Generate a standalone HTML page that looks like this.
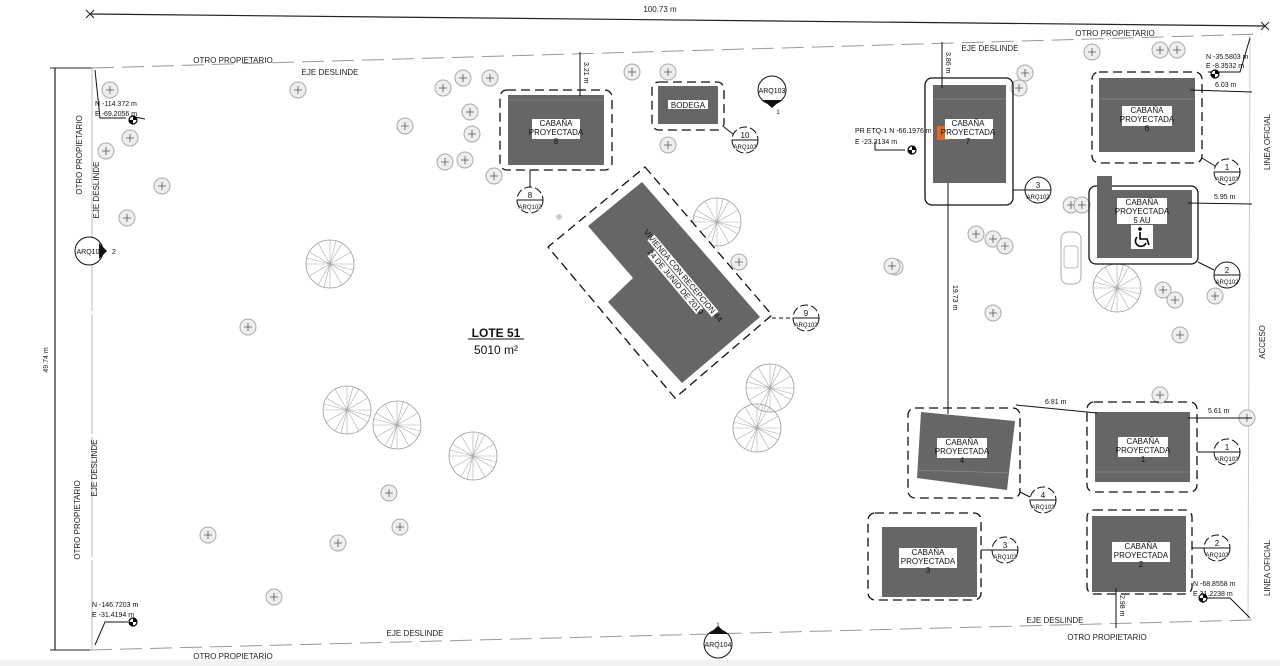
<!DOCTYPE html>
<html><head><meta charset="utf-8"><style>
html,body{margin:0;padding:0;background:#fff;}
svg{display:block;font-family:"Liberation Sans",sans-serif;}
.l{font-size:8px;fill:#222;}
.s{font-size:7px;fill:#222;}
.cab{font-size:8px;fill:#111;}
</style></head><body>
<svg width="1280" height="666" viewBox="0 0 1280 666" xmlns="http://www.w3.org/2000/svg">
<defs>
<g id="t"><circle r="8" fill="#eee" stroke="#aaa" stroke-width="1"/><path d="M-4 0H4M0 -4V4" stroke="#555" stroke-width="0.8"/></g>
<g id="T"><circle r="24" fill="none" stroke="#999" stroke-width="0.8"/>
<path d="M0 0L0 -24M0 0L12 -21M0 0L21 -12M0 0L24 0M0 0L21 12M0 0L12 21M0 0L0 24M0 0L-12 21M0 0L-21 12M0 0L-24 0M0 0L-21 -12M0 0L-12 -21M0 0L6 -23M0 0L-6 23M0 0L23 6M0 0L-23 -6" stroke="#aaa" stroke-width="0.6"/></g>
<g id="mk"><circle r="4" fill="#fff" stroke="#000" stroke-width="1.2"/><path d="M0 -4A4 4 0 0 1 4 0H0ZM0 4A4 4 0 0 1 -4 0H0Z" fill="#000"/></g>
</defs>
<rect width="1280" height="666" fill="#fff"/>
<rect y="660" width="1280" height="6" fill="#f2f2f2"/>

<line x1="90" y1="14" x2="1265" y2="26" stroke="#222" stroke-width="1.2"/>
<path d="M86 10l8 8M86 18l8 -8M1261 22l8 8M1261 30l8-8" stroke="#222"/>
<text x="660" y="12" class="l" text-anchor="middle">100.73 m</text>
<line x1="55" y1="68" x2="55" y2="650" stroke="#222" stroke-width="1.2"/>
<line x1="50" y1="68" x2="92" y2="68" stroke="#222" stroke-width="1"/>
<line x1="50" y1="650" x2="92" y2="650" stroke="#222" stroke-width="1"/>
<text transform="translate(48,360) rotate(-90)" class="s" text-anchor="middle">49.74 m</text>

<line x1="92" y1="68" x2="1262" y2="34" stroke="#999" stroke-width="1" stroke-dasharray="22 8"/>
<line x1="90" y1="650" x2="1252" y2="620" stroke="#999" stroke-width="1" stroke-dasharray="22 8"/>
<line x1="92" y1="68" x2="92" y2="650" stroke="#bbb" stroke-width="1" stroke-dasharray="120 3"/>
<line x1="1250" y1="36" x2="1248" y2="620" stroke="#ccc" stroke-width="1"/>
<text x="233" y="63" class="l" text-anchor="middle">OTRO PROPIETARIO</text>
<text x="330" y="75" class="l" text-anchor="middle">EJE DESLINDE</text>
<text x="1115" y="36" class="l" text-anchor="middle">OTRO PROPIETARIO</text>
<text x="990" y="51" class="l" text-anchor="middle">EJE DESLINDE</text>
<text x="415" y="636" class="l" text-anchor="middle">EJE DESLINDE</text>
<text x="233" y="659" class="l" text-anchor="middle">OTRO PROPIETARIO</text>
<text x="1055" y="623" class="l" text-anchor="middle">EJE DESLINDE</text>
<text x="1107" y="640" class="l" text-anchor="middle">OTRO PROPIETARIO</text>
<text transform="translate(82,155) rotate(-90)" class="l" text-anchor="middle">OTRO PROPIETARIO</text>
<text transform="translate(99,190) rotate(-90)" class="l" text-anchor="middle">EJE DESLINDE</text>
<text transform="translate(80,520) rotate(-90)" class="l" text-anchor="middle">OTRO PROPIETARIO</text>
<text transform="translate(97,468) rotate(-90)" class="l" text-anchor="middle">EJE DESLINDE</text>
<text transform="translate(1270,142) rotate(-90)" class="l" text-anchor="middle">LINEA OFICIAL</text>
<text transform="translate(1265,342) rotate(-90)" class="l" text-anchor="middle">ACCESO</text>
<text transform="translate(1270,568) rotate(-90)" class="l" text-anchor="middle">LINEA OFICIAL</text>

<g>
<use href="#t" x="110" y="90"/><use href="#t" x="130" y="138"/><use href="#t" x="106" y="151"/><use href="#t" x="162" y="186"/><use href="#t" x="127" y="218"/>
<use href="#t" x="298" y="90"/><use href="#t" x="405" y="126"/><use href="#t" x="443" y="88"/><use href="#t" x="463" y="78"/><use href="#t" x="490" y="78"/>
<use href="#t" x="470" y="112"/><use href="#t" x="472" y="134"/><use href="#t" x="445" y="162"/><use href="#t" x="465" y="160"/><use href="#t" x="494" y="176"/>
<use href="#t" x="632" y="72"/><use href="#t" x="668" y="72"/><use href="#t" x="668" y="145"/>
<use href="#t" x="248" y="327"/><use href="#t" x="208" y="535"/><use href="#t" x="274" y="597"/><use href="#t" x="338" y="543"/><use href="#t" x="389" y="493"/><use href="#t" x="400" y="527"/>
<use href="#t" x="739" y="262"/><use href="#t" x="895" y="267"/><use href="#t" x="993" y="313"/>
<use href="#t" x="1019" y="88"/><use href="#t" x="1025" y="73"/><use href="#t" x="1092" y="52"/><use href="#t" x="1160" y="50"/><use href="#t" x="1177" y="50"/>
<use href="#t" x="1071" y="205"/><use href="#t" x="1082" y="205"/><use href="#t" x="976" y="234"/><use href="#t" x="993" y="239"/><use href="#t" x="1005" y="246"/><use href="#t" x="892" y="266"/>
<use href="#t" x="1163" y="290"/><use href="#t" x="1175" y="300"/><use href="#t" x="1215" y="296"/><use href="#t" x="1180" y="335"/><use href="#t" x="1247" y="418"/><use href="#t" x="1160" y="395"/>
</g>
<use href="#T" x="330" y="264"/><use href="#T" x="347" y="410"/><use href="#T" x="397" y="425"/><use href="#T" x="473" y="456"/>
<use href="#T" x="717" y="222"/><use href="#T" x="770" y="388"/><use href="#T" x="757" y="428"/><use href="#T" x="1117" y="288"/>
<circle cx="559" cy="217" r="3" fill="#ccc"/>

<path d="M645 167L772 315L675 398L548 247Z" fill="#fff" stroke="#111" stroke-width="1.3" stroke-dasharray="9 5" stroke-linejoin="round"/>
<path d="M642 182L760 317L682 383L608 302L633 278L588 226Z" fill="#666"/>
<g transform="translate(678,280) rotate(50)">
<rect x="-50" y="-11" width="100" height="9" fill="#fff"/><rect x="-38" y="-1" width="76" height="9" fill="#fff"/>
<text class="cab" text-anchor="middle"><tspan x="0" y="-4">VIVIENDA CON RECEPCION 44</tspan><tspan x="0" y="6">24 DE JUNIO DE 2019</tspan></text></g>
<line x1="772" y1="318" x2="792" y2="318" stroke="#111" stroke-dasharray="4 3"/>

<g fill="none" stroke="#111" stroke-width="1.3">
<rect x="500" y="90" width="112" height="80" rx="7" stroke-dasharray="9 5"/>
<rect x="652" y="82" width="72" height="48" rx="7" stroke-dasharray="9 5"/>
<rect x="925" y="78" width="88" height="127" rx="7"/>
<rect x="1092" y="72" width="110" height="91" rx="7" stroke-dasharray="9 5"/>
<rect x="1089" y="186" width="109" height="78" rx="7"/>
<rect x="908" y="408" width="112" height="90" rx="7" stroke-dasharray="9 5"/>
<rect x="1087" y="402" width="110" height="90" rx="7" stroke-dasharray="9 5"/>
<rect x="868" y="513" width="113" height="87" rx="7" stroke-dasharray="9 5"/>
<rect x="1087" y="510" width="105" height="84" rx="7" stroke-dasharray="9 5"/>
</g>
<g fill="#666">
<rect x="508" y="95" width="96" height="70"/>
<rect x="658" y="86" width="60" height="38"/>
<rect x="933" y="85" width="73" height="98"/>
<rect x="1099" y="78" width="96" height="74"/>
<rect x="1097" y="190" width="95" height="68"/><rect x="1097" y="176" width="15" height="16"/>
<path d="M921 412L1015 421L1007 490L917 478Z"/>
<rect x="1095" y="412" width="95" height="70"/>
<rect x="882" y="527" width="95" height="70"/>
<rect x="1092" y="516" width="94" height="76"/>
</g>
<g stroke="#999" stroke-width="0.6"><line x1="508" y1="100" x2="604" y2="100"/><line x1="933" y1="99" x2="1006" y2="99"/><line x1="1099" y1="99" x2="1195" y2="99"/><line x1="1095" y1="472" x2="1190" y2="472"/><line x1="918" y1="470" x2="1008" y2="473"/></g>
<rect x="937" y="126" width="12" height="14" fill="#e06a2a"/>

<g class="cab" text-anchor="middle">
<g fill="#fff"><rect x="532" y="119" width="48" height="20"/><rect x="668" y="100" width="40" height="9"/><rect x="945" y="119" width="48" height="20"/><rect x="1122" y="106" width="50" height="20"/><rect x="1117" y="198" width="50" height="26"/><rect x="937" y="438" width="50" height="20"/><rect x="1118" y="437" width="50" height="20"/><rect x="899" y="548" width="58" height="20"/><rect x="1112" y="542" width="58" height="20"/></g>
<text x="556" y="126">CABAÑA<tspan x="556" dy="9">PROYECTADA</tspan><tspan x="556" dy="9">8</tspan></text>
<text x="688" y="108">BODEGA</text>
<text x="968" y="126">CABAÑA<tspan x="968" dy="9">PROYECTADA</tspan><tspan x="968" dy="9">7</tspan></text>
<text x="1147" y="113">CABAÑA<tspan x="1147" dy="9">PROYECTADA</tspan><tspan x="1147" dy="9">6</tspan></text>
<text x="1142" y="205">CABAÑA<tspan x="1142" dy="9">PROYECTADA</tspan><tspan x="1142" dy="9">5 AU</tspan></text>
<text x="962" y="445">CABAÑA<tspan x="962" dy="9">PROYECTADA</tspan><tspan x="962" dy="9">4</tspan></text>
<text x="1143" y="444">CABAÑA<tspan x="1143" dy="9">PROYECTADA</tspan><tspan x="1143" dy="9">1</tspan></text>
<text x="928" y="555">CABAÑA<tspan x="928" dy="9">PROYECTADA</tspan><tspan x="928" dy="9">3</tspan></text>
<text x="1141" y="549">CABAÑA<tspan x="1141" dy="9">PROYECTADA</tspan><tspan x="1141" dy="9">2</tspan></text>
</g>
<rect x="1131" y="225" width="22" height="24" fill="#fff"/>
<g stroke="#000" stroke-width="1.6" fill="none">
<circle cx="1140" cy="229" r="1.8" fill="#000" stroke="none"/>
<path d="M1140 232V239H1147L1149 245"/>
<path d="M1137 237A5.5 5.5 0 1 0 1146 243"/>
</g>

<g font-size="8" text-anchor="middle" fill="#111">
<g transform="translate(530,200)"><circle r="13" fill="#fff" stroke="#111" stroke-dasharray="8 3"/><line x1="-13" x2="13" stroke="#111"/><text y="-2">8</text><text y="9" font-size="6">ARQ102</text><line y1="-13" y2="-30" stroke="#111"/></g>
<g transform="translate(745,140)"><circle r="13" fill="#fff" stroke="#111" stroke-dasharray="8 3"/><line x1="-13" x2="13" stroke="#111"/><text y="-2">10</text><text y="9" font-size="6">ARQ102</text></g>
<g transform="translate(806,318)"><circle r="13" fill="#fff" stroke="#111" stroke-dasharray="8 3"/><line x1="-13" x2="13" stroke="#111"/><text y="-2">9</text><text y="9" font-size="6">ARQ102</text></g>
<g transform="translate(1038,190)"><circle r="13" fill="#fff" stroke="#111"/><line x1="-13" x2="13" stroke="#111"/><text y="-2">3</text><text y="9" font-size="6">ARQ102</text></g>
<g transform="translate(1227,172)"><circle r="13" fill="#fff" stroke="#111" stroke-dasharray="8 3"/><line x1="-13" x2="13" stroke="#111"/><text y="-2">1</text><text y="9" font-size="6">ARQ102</text></g>
<g transform="translate(1227,275)"><circle r="13" fill="#fff" stroke="#111"/><line x1="-13" x2="13" stroke="#111"/><text y="-2">2</text><text y="9" font-size="6">ARQ102</text></g>
<g transform="translate(1227,452)"><circle r="13" fill="#fff" stroke="#111" stroke-dasharray="8 3"/><line x1="-13" x2="13" stroke="#111"/><text y="-2">1</text><text y="9" font-size="6">ARQ102</text></g>
<g transform="translate(1043,500)"><circle r="13" fill="#fff" stroke="#111" stroke-dasharray="8 3"/><line x1="-13" x2="13" stroke="#111"/><text y="-2">4</text><text y="9" font-size="6">ARQ102</text></g>
<g transform="translate(1005,550)"><circle r="13" fill="#fff" stroke="#111" stroke-dasharray="8 3"/><line x1="-13" x2="13" stroke="#111"/><text y="-2">3</text><text y="9" font-size="6">ARQ102</text></g>
<g transform="translate(1217,548)"><circle r="13" fill="#fff" stroke="#111" stroke-dasharray="8 3"/><line x1="-13" x2="13" stroke="#111"/><text y="-2">2</text><text y="9" font-size="6">ARQ102</text></g>
</g>
<g stroke="#111" fill="none"><line x1="724" y1="127" x2="733" y2="134"/><line x1="1013" y1="190" x2="1025" y2="190"/><line x1="1202" y1="158" x2="1215" y2="166"/><line x1="1198" y1="262" x2="1214" y2="270"/><line x1="1197" y1="452" x2="1214" y2="452"/><line x1="1020" y1="492" x2="1030" y2="497"/><line x1="981" y1="550" x2="992" y2="550"/><line x1="1192" y1="548" x2="1204" y2="548"/></g>
<g font-size="7" fill="#111" text-anchor="middle">
<circle cx="772" cy="90" r="14" fill="#fff" stroke="#111"/><path d="M763 100L772 108L781 100Z" fill="#111"/><text x="772" y="93">ARQ103</text><text x="778" y="114" font-size="6">1</text>
<circle cx="718" cy="644" r="14" fill="#fff" stroke="#111"/><path d="M709 634L718 626L727 634Z" fill="#111"/><text x="718" y="647">ARQ104</text><text x="718" y="627" font-size="6">1</text>
<circle cx="89" cy="251" r="14" fill="#fff" stroke="#111"/><path d="M99 243L107 251L99 259Z" fill="#111"/><text x="88" y="254">ARQ10</text><text x="114" y="254" font-size="7">2</text>
</g>

<g stroke="#111" stroke-width="1" fill="none">
<line x1="580" y1="52" x2="580" y2="96"/><line x1="942" y1="42" x2="942" y2="88"/>
<line x1="948" y1="183" x2="948" y2="414"/>
<line x1="1016" y1="405" x2="1097" y2="413"/>
<line x1="1188" y1="418" x2="1252" y2="418"/>
<line x1="1190" y1="90" x2="1252" y2="92"/>
<line x1="1188" y1="203" x2="1252" y2="204"/>
<line x1="1116" y1="588" x2="1116" y2="628"/>
<path d="M126 118H100L95 70M145 119L135 117"/>
<path d="M128 622H105L95 645"/>
<path d="M1208 72H1240L1250 38"/>
<path d="M875 142V150H905"/>
<path d="M1202 598H1230L1250 618"/>
</g>
<g font-size="7" fill="#111">
<text transform="translate(584,62) rotate(90)">3.21 m</text>
<text transform="translate(946,52) rotate(90)">3.86 m</text>
<text transform="translate(953,285) rotate(90)">19.73 m</text>
<text transform="translate(1120,595) rotate(90)">2.98 m</text>
<text x="1045" y="404">6.81 m</text>
<text x="1208" y="413">5.61 m</text>
<text x="1215" y="87">6.03 m</text>
<text x="1214" y="199">5.95 m</text>
<text x="95" y="106">N -114.372 m</text><text x="95" y="116">E -69.2056 m</text>
<text x="92" y="607">N -146.7203 m</text><text x="92" y="617">E -31.4194 m</text>
<text x="1206" y="59">N -35.5803 m</text><text x="1206" y="68">E -8.3532 m</text>
<text x="855" y="133">PR ETQ-1 N -66.1976 m</text><text x="855" y="144">E -23.3134 m</text>
<text x="1193" y="586">N -68.8558 m</text><text x="1193" y="596">E 31.2238 m</text>
</g>
<use href="#mk" x="133" y="120"/><use href="#mk" x="133" y="622"/><use href="#mk" x="1215" y="74"/><use href="#mk" x="912" y="150"/><use href="#mk" x="1203" y="598"/>

<rect x="1061" y="232" width="20" height="52" rx="7" fill="#fff" stroke="#aaa"/>
<rect x="1064" y="246" width="14" height="22" rx="3" fill="none" stroke="#bbb"/>

<text x="496" y="337" font-size="12" font-weight="bold" text-anchor="middle" fill="#111">LOTE 51</text>
<line x1="468" y1="339" x2="524" y2="339" stroke="#111"/>
<text x="496" y="354" font-size="12" text-anchor="middle" fill="#111">5010 m²</text>
</svg>
</body></html>
